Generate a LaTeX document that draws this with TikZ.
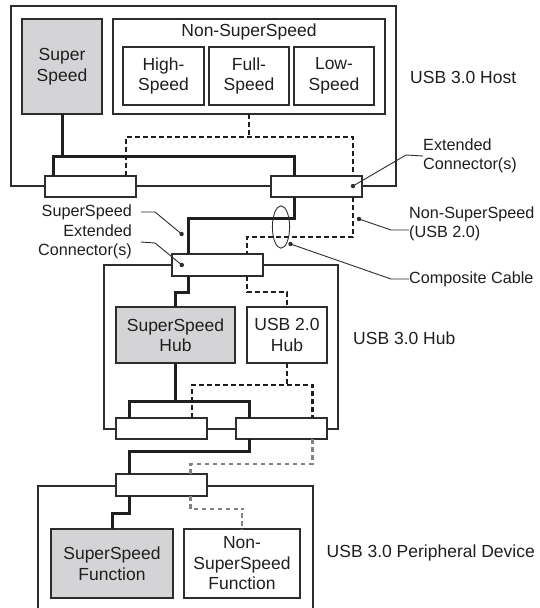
\documentclass[tikz,border=0pt]{standalone}
\usepackage{fontspec}
\setmainfont{Liberation Sans}
\usepackage{tikz}
\usetikzlibrary{calc, positioning}
\definecolor{ssfill}{RGB}{212, 212, 214}
\definecolor{edge}{RGB}{45, 45, 45}
\definecolor{usbgray}{RGB}{130, 130, 130}

\begin{document}
\begin{tikzpicture}[
  x=1pt, y=-1pt,
  frame/.style={draw=edge, line width=1.2pt},
  box/.style={draw=edge, line width=1.2pt, fill=white, anchor=north west,
              inner sep=0pt, outer sep=0pt, align=center, text=black!88,
              font=\fontsize{17.5}{20.5}\selectfont},
  plug/.style={box, minimum width=91pt, minimum height=21pt},
  lbl/.style={inner sep=0pt, text=black!88, font=\fontsize{16.2}{19}\selectfont},
  side/.style={inner sep=0pt, anchor=west, text=black!88,
               font=\fontsize{17.5}{20.5}\selectfont},
  ssline/.style={draw=black!88, line width=3pt},
  nsline/.style={draw=black!88, line width=2.4pt, dash pattern=on 4.7pt off 3.3pt},
  graydash/.style={draw=usbgray, line width=2.2pt, dash pattern=on 4.7pt off 3.3pt},
  lead/.style={draw=edge, line width=0.9pt}
]
  \useasboundingbox (0,0) rectangle (540,608);
  \fill[white] (0,0) rectangle (540,608);

  % host
  \draw[frame] (11,6) rectangle (396,186);
  \node[box, fill=ssfill, minimum width=80pt, minimum height=95pt] (hss) at (22,19) {Super\\Speed};
  \node[box, minimum width=272pt, minimum height=95pt] (hns) at (113,19) {};
  \node[lbl, font=\fontsize{17.5}{20.5}\selectfont] (hnslbl) at (249,32) {Non-SuperSpeed};
  \node[box, minimum width=81pt, minimum height=58pt] (hhs) at (123,47) {High-\\Speed};
  \node[box, minimum width=80pt, minimum height=58pt] (hfs) at (209,47) {Full-\\Speed};
  \node[box, minimum width=80pt, minimum height=58pt] (hls) at (294,47) {Low-\\Speed};
  \node[plug] (hcL) at (45,176) {};
  \node[plug] (hcR) at (271,176) {};
  \node[side] (hostlbl) at (410,77) {USB 3.0 Host};

  % hub
  \draw[frame] (104,265) rectangle (338,429);
  \node[plug, minimum height=22pt] (hubc) at (172,254) {};
  \node[box, fill=ssfill, minimum width=119pt, minimum height=56pt] (sshub) at (116,307) {SuperSpeed\\Hub};
  \node[box, minimum width=80pt, minimum height=56pt] (u2hub) at (247,307) {USB 2.0\\Hub};
  \node[plug] (dcL) at (116,418) {};
  \node[plug] (dcR) at (236,418) {};
  \node[side] (hublbl) at (353,338) {USB 3.0 Hub};

  % device
  \draw[frame] (38,610) |- (313,486) -- (313,610);
  \node[plug, minimum height=22pt] (devc) at (116,474) {};
  \node[box, fill=ssfill, minimum width=122pt, minimum height=69pt] (ssfn) at (51,529) {SuperSpeed\\Function};
  \node[box, minimum width=116pt, minimum height=69pt] (nsfn) at (184,529) {Non-\\SuperSpeed\\Function};
  \node[side] (devlbl) at (326.5,553) {USB 3.0 Peripheral Device};

  % superspeed paths
  \draw[ssline] (hss.south) -- (hss.south |- 0,156);
  \draw[ssline] (hcL.north -| 53,0) |- (294.5,156) -- (hcR.north -| 294.5,0);
  \draw[ssline] (hcR.south -| 294.5,0) |- (188.4,218) -- (hubc.north -| 188.4,0);
  \draw[ssline] (hubc.south -| 188.4,0) |- (176.7,292) -| (sshub.north);
  \draw[ssline] (sshub.south) -- (sshub.south |- 0,401);
  \draw[ssline] (dcL.north -| 129.8,0) |- (249.7,401) -- (dcR.north -| 249.7,0);
  \draw[ssline] (dcR.south -| 249.7,0) |- (129.8,451) -- (devc.north -| 129.8,0);
  \draw[ssline] (devc.south -| 129.8,0) |- (112.6,513) -| (ssfn.north);

  % non-superspeed paths
  \draw[nsline] (hns.south) -- (hns.south |- 0,137);
  \draw[nsline] (hcL.north -| 126,0) |- (353,137) -- (hcR.north -| 353,0);
  \draw[nsline] (hcR.south -| 353,0) |- (247,237) -- (hubc.north -| 247,0);
  \draw[nsline] (hubc.south -| 247,0) |- (287,292) -| (u2hub.north);
  \draw[nsline] (u2hub.south) -- (u2hub.south |- 0,385);
  \draw[nsline] (dcL.north -| 191.8,0) |- (312.4,385) -- (dcR.north -| 312.4,0);
  \draw[graydash] (dcR.south -| 312.4,0) |- (190.5,464) -- (devc.north -| 190.5,0);
  \draw[graydash] (devc.south -| 190.5,0) |- (243.8,509) -| (nsfn.north);

  % cable
  \draw[lead] (281,227) ellipse [x radius=8.6, y radius=21.2];

  % callouts
  \node[lbl, anchor=west, align=left] (extR) at (423,156) {Extended\\Connector(s)};
  \fill[edge] (353,186) circle (2.2);
  \draw[lead] (353,186) -- (406,155) -- (extR.west);

  \node[lbl, anchor=east] (sslbl) at (132,212) {SuperSpeed};
  \fill[edge] (181.6,234) circle (2.2);
  \draw[lead] (sslbl.east) ++(9,0) -- (155,212) -- (181.6,234);

  \node[lbl, anchor=east, align=right] (extL) at (132,242) {Extended\\Connector(s)};
  \fill[edge] (181.8,265) circle (2.2);
  \draw[lead] (extL.east) ++(9,0) -- (155,243) -- (181.8,265);

  \node[lbl, anchor=west, align=left] (nslbl) at (409,224) {Non-SuperSpeed\\(USB 2.0)};
  \fill[edge] (359,219) circle (2.2);
  \draw[lead] (359,219) -- (391,230) -- (nslbl.west |- 0,230);

  \node[lbl, anchor=west] (cablbl) at (409,279) {Composite Cable};
  \fill[edge] (290.5,244) circle (2.2);
  \draw[lead] (290.5,244) -- (391,279) -- (cablbl.west);
\end{tikzpicture}
\end{document}
